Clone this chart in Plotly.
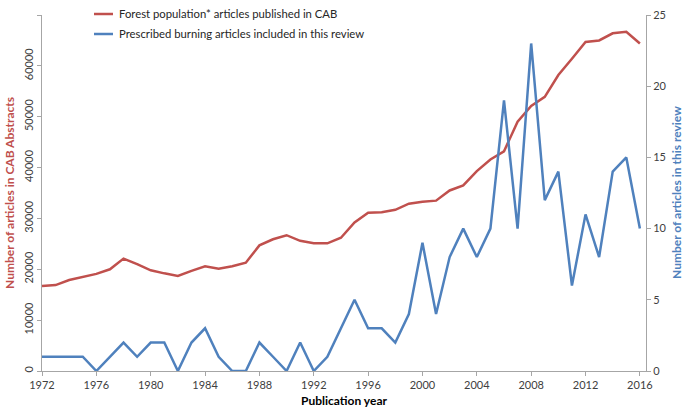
import plotly.graph_objects as go

years = list(range(1972, 2017))
cab_articles = [16700, 16900, 17900, 18500, 19100, 20000, 22100, 21000, 19800, 19200,
                18700, 19700, 20600, 20100, 20600, 21300, 24700, 25900, 26700, 25600,
                25100, 25100, 26200, 29200, 31100, 31200, 31700, 32900, 33300, 33500,
                35500, 36500, 39300, 41600, 43200, 49000, 52100, 53900, 58200, 61400,
                64700, 65000, 66400, 66700, 64400]
review_articles = [1, 1, 1, 1, 0, 1, 2, 1, 2, 2, 0, 2, 3, 1, 0, 0, 2, 1, 0, 2, 0, 1, 3, 5,
                   3, 3, 2, 4, 9, 4, 8, 10, 8, 10, 19, 10, 23, 12, 14, 6, 11, 8, 14, 15, 10]
x_ticks = list(range(1972, 2017, 4))
series_names = ["Forest population* articles published in CAB",
                "Prescribed burning articles included in this review"]

RED = "#C0504D"
BLUE = "#4F81BD"
FONT = "Lato, Carlito, Calibri, sans-serif"

# plot-area geometry (pixels) used to place the hand-drawn legend
L, R, T, B = 42, 39, 15, 41
PW, PH = 685 - L - R, 412 - T - B


def px_x(px):
    return (px - L) / PW


def px_y(py):
    return (412 - B - py) / PH


fig = go.Figure()
fig.add_trace(go.Scatter(x=years, y=cab_articles, mode="lines", name=series_names[0],
                         line=dict(color=RED, width=2.5), yaxis="y"))
fig.add_trace(go.Scatter(x=years, y=review_articles, mode="lines", name=series_names[1],
                         line=dict(color=BLUE, width=2.5), yaxis="y2"))

axis_common = dict(showgrid=False, zeroline=False, showline=True, linecolor="#A6A6A6",
                   linewidth=1, ticks="outside", ticklen=4, tickcolor="#A6A6A6",
                   automargin=False,
                   tickfont=dict(size=11, color="#404040", family=FONT))

shapes, annotations = [], []
for i, (name, color) in enumerate(zip(series_names, [RED, BLUE])):
    row_y = 14 + 20 * i
    shapes.append(dict(type="line", xref="paper", yref="paper",
                       x0=px_x(94), x1=px_x(113), y0=px_y(row_y), y1=px_y(row_y),
                       line=dict(color=color, width=2.5)))
    annotations.append(dict(text=name, xref="paper", yref="paper", x=px_x(117), y=px_y(row_y),
                            xanchor="left", yanchor="middle", showarrow=False,
                            font=dict(size=11.3, color="#262626", family=FONT)))

annotations += [
    dict(text="<b>Number of articles in CAB Abstracts</b>", xref="paper", yref="paper",
         x=px_x(9), y=0.5, xanchor="center", yanchor="middle", textangle=-90,
         showarrow=False, font=dict(size=12, color=RED, family=FONT)),
    dict(text="<b>Number of articles in this review</b>", xref="paper", yref="paper",
         x=px_x(676), y=0.5, xanchor="center", yanchor="middle", textangle=-90,
         showarrow=False, font=dict(size=12, color=BLUE, family=FONT)),
]

fig.update_layout(
    width=685, height=412,
    margin=dict(l=L, r=R, t=T, b=B, autoexpand=False),
    paper_bgcolor="white", plot_bgcolor="white",
    font=dict(family=FONT),
    xaxis=dict(range=[1972, 2016.45], tickmode="array", tickvals=x_ticks,
               title=dict(text="<b>Publication year</b>", font=dict(size=12, color="black", family=FONT),
                          standoff=6),
               **axis_common),
    yaxis=dict(range=[0, 70000], tickmode="array", tickvals=list(range(0, 70001, 10000)),
               tickformat="d", tickangle=-90, **axis_common),
    yaxis2=dict(range=[0, 25], tickmode="array", tickvals=[0, 5, 10, 15, 20, 25],
                overlaying="y", side="right", **axis_common),
    showlegend=False,
    shapes=shapes,
    annotations=annotations,
)

fig.write_html("out.html", config={"displayModeBar": False},
               post_script="document.body.style.margin='0';document.body.style.overflow='hidden';")
